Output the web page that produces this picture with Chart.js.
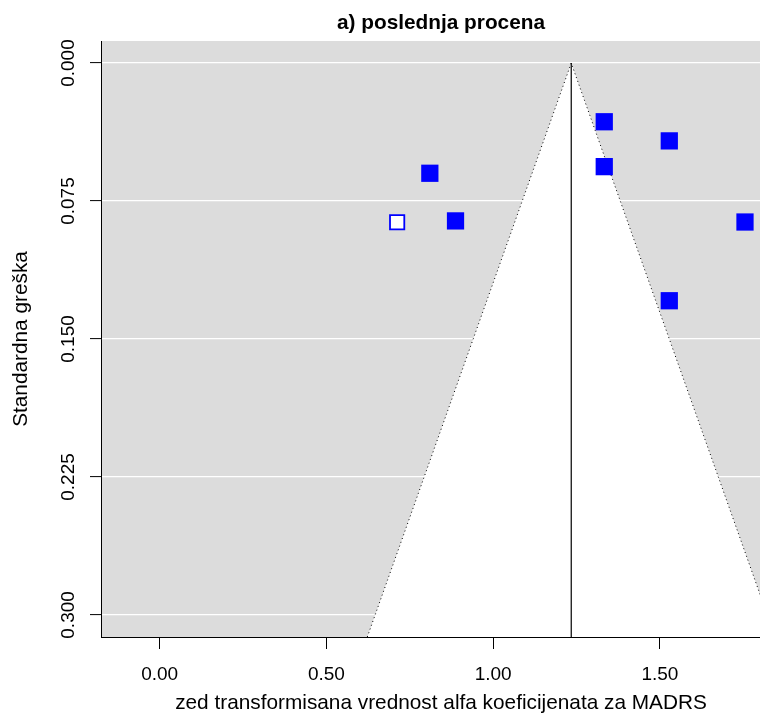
<!DOCTYPE html>
<html><head><meta charset="utf-8">
<script src="https://cdn.jsdelivr.net/npm/chart.js@4/dist/chart.umd.min.js"></script>
<style>html,body{margin:0;padding:0;background:#fff}canvas{display:block}</style>
</head><body>
<canvas id="c" width="760" height="713"></canvas>
<script>
// ---- data ----
const TITLE = 'a) poslednja procena';
const X_TITLE = 'zed transformisana vrednost alfa koeficijenata za MADRS';
const Y_TITLE = 'Standardna greška';
const X_TICKS = [0, 0.5, 1.0, 1.5];
const X_TICK_LABELS = ['0.00', '0.50', '1.00', '1.50'];
const Y_TICKS = [0, 0.075, 0.150, 0.225, 0.300];
const Y_TICK_LABELS = ['0.000', '0.075', '0.150', '0.225', '0.300'];
const STUDY_EFFECT = [1.333, 1.528, 1.333, 0.810, 0.887, 1.755, 1.528];
const STUDY_SE = [0.0319, 0.0423, 0.0563, 0.0599, 0.0858, 0.0864, 0.1292];
const FILLED_EFFECT = [0.712];
const FILLED_SE = [0.0865];
const POOLED_ESTIMATE = 1.234;
const Z_CRIT = 1.96;
const X_RANGE = [-0.176, 1.80];
const Y_RANGE = [-0.012, 0.312];

// ---- derived datasets ----
const seMax = Y_RANGE[1];
const funnelPts = [
  {x: POOLED_ESTIMATE - Z_CRIT * seMax, y: seMax},
  {x: POOLED_ESTIMATE, y: 0},
  {x: POOLED_ESTIMATE + Z_CRIT * seMax, y: seMax}
];
const centerLine = [{x: POOLED_ESTIMATE, y: 0}, {x: POOLED_ESTIMATE, y: seMax}];
const studies = STUDY_EFFECT.map((x, i) => ({x, y: STUDY_SE[i]}));
const filled = FILLED_EFFECT.map((x, i) => ({x, y: FILLED_SE[i]}));

const FONT = '"Liberation Sans", Arial, Helvetica, sans-serif';

const bgPlugin = {
  id: 'bg',
  beforeDraw(chart) {
    const {ctx, chartArea: a} = chart;
    ctx.save();
    ctx.fillStyle = '#dcdcdc';
    ctx.fillRect(a.left, a.top, a.right - a.left, a.bottom - a.top);
    ctx.restore();
  }
};

const textPlugin = {
  id: 'texts',
  afterDraw(chart) {
    const {ctx, chartArea: a} = chart;
    const xs = chart.scales.x, ys = chart.scales.y;
    ctx.save();
    ctx.fillStyle = '#000';
    ctx.textBaseline = 'alphabetic';
    ctx.textAlign = 'center';
    ctx.font = 'bold 20.8px ' + FONT;
    ctx.fillText(TITLE, 441, 29);
    ctx.font = '19px ' + FONT;
    X_TICKS.forEach((v, i) => ctx.fillText(X_TICK_LABELS[i], xs.getPixelForValue(v), 680));
    Y_TICKS.forEach((v, i) => {
      ctx.save();
      ctx.translate(74, ys.getPixelForValue(v));
      ctx.rotate(-Math.PI / 2);
      ctx.fillText(Y_TICK_LABELS[i], 0, 0);
      ctx.restore();
    });
    ctx.font = '20.8px ' + FONT;
    ctx.fillText(X_TITLE, 441, 708.5);
    ctx.save();
    ctx.translate(27, (a.top + a.bottom) / 2);
    ctx.rotate(-Math.PI / 2);
    ctx.fillText(Y_TITLE, 0, 0);
    ctx.restore();
    ctx.restore();
  }
};

new Chart(document.getElementById('c'), {
  type: 'line',
  data: {
    datasets: [
      {
        label: 'funnel', data: funnelPts, order: 3,
        borderColor: '#000', borderWidth: 1, borderDash: [1, 3],
        backgroundColor: '#ffffff', fill: {value: seMax},
        pointRadius: 0, tension: 0
      },
      {
        label: 'estimate', data: centerLine, order: 2,
        borderColor: '#000', borderWidth: 1.2, fill: false, pointRadius: 0
      },
      {
        label: 'studies', data: studies, order: 1, showLine: false,
        pointStyle: 'rect', pointRadius: 12.2,
        pointBackgroundColor: '#0000ff', pointBorderColor: '#3333ff', pointBorderWidth: 0
      },
      {
        label: 'filled', data: filled, order: 1, showLine: false,
        pointStyle: 'rect', pointRadius: 10.1,
        pointBackgroundColor: '#ffffff', pointBorderColor: '#0000ff', pointBorderWidth: 1.8
      }
    ]
  },
  options: {
    responsive: false,
    animation: false,
    events: [],
    layout: {autoPadding: false, padding: {left: 90, top: 41, right: 0, bottom: 64}},
    plugins: {legend: {display: false}, tooltip: {enabled: false}, title: {display: false}},
    scales: {
      x: {
        type: 'linear', min: X_RANGE[0], max: X_RANGE[1],
        afterBuildTicks: s => { s.ticks = X_TICKS.map(v => ({value: v})); },
        ticks: {display: false},
        grid: {drawOnChartArea: false, drawTicks: true, tickLength: 12, tickColor: '#000', tickWidth: 1},
        border: {display: true, color: '#000', width: 1}
      },
      y: {
        type: 'linear', reverse: true, min: Y_RANGE[0], max: Y_RANGE[1],
        afterBuildTicks: s => { s.ticks = Y_TICKS.map(v => ({value: v})); },
        ticks: {display: false},
        grid: {color: '#ffffff', lineWidth: 1.2, drawTicks: true, tickLength: 11, tickColor: '#000', tickWidth: 1},
        border: {display: true, color: '#000', width: 1}
      }
    }
  },
  plugins: [bgPlugin, textPlugin]
});
</script>
</body></html>
